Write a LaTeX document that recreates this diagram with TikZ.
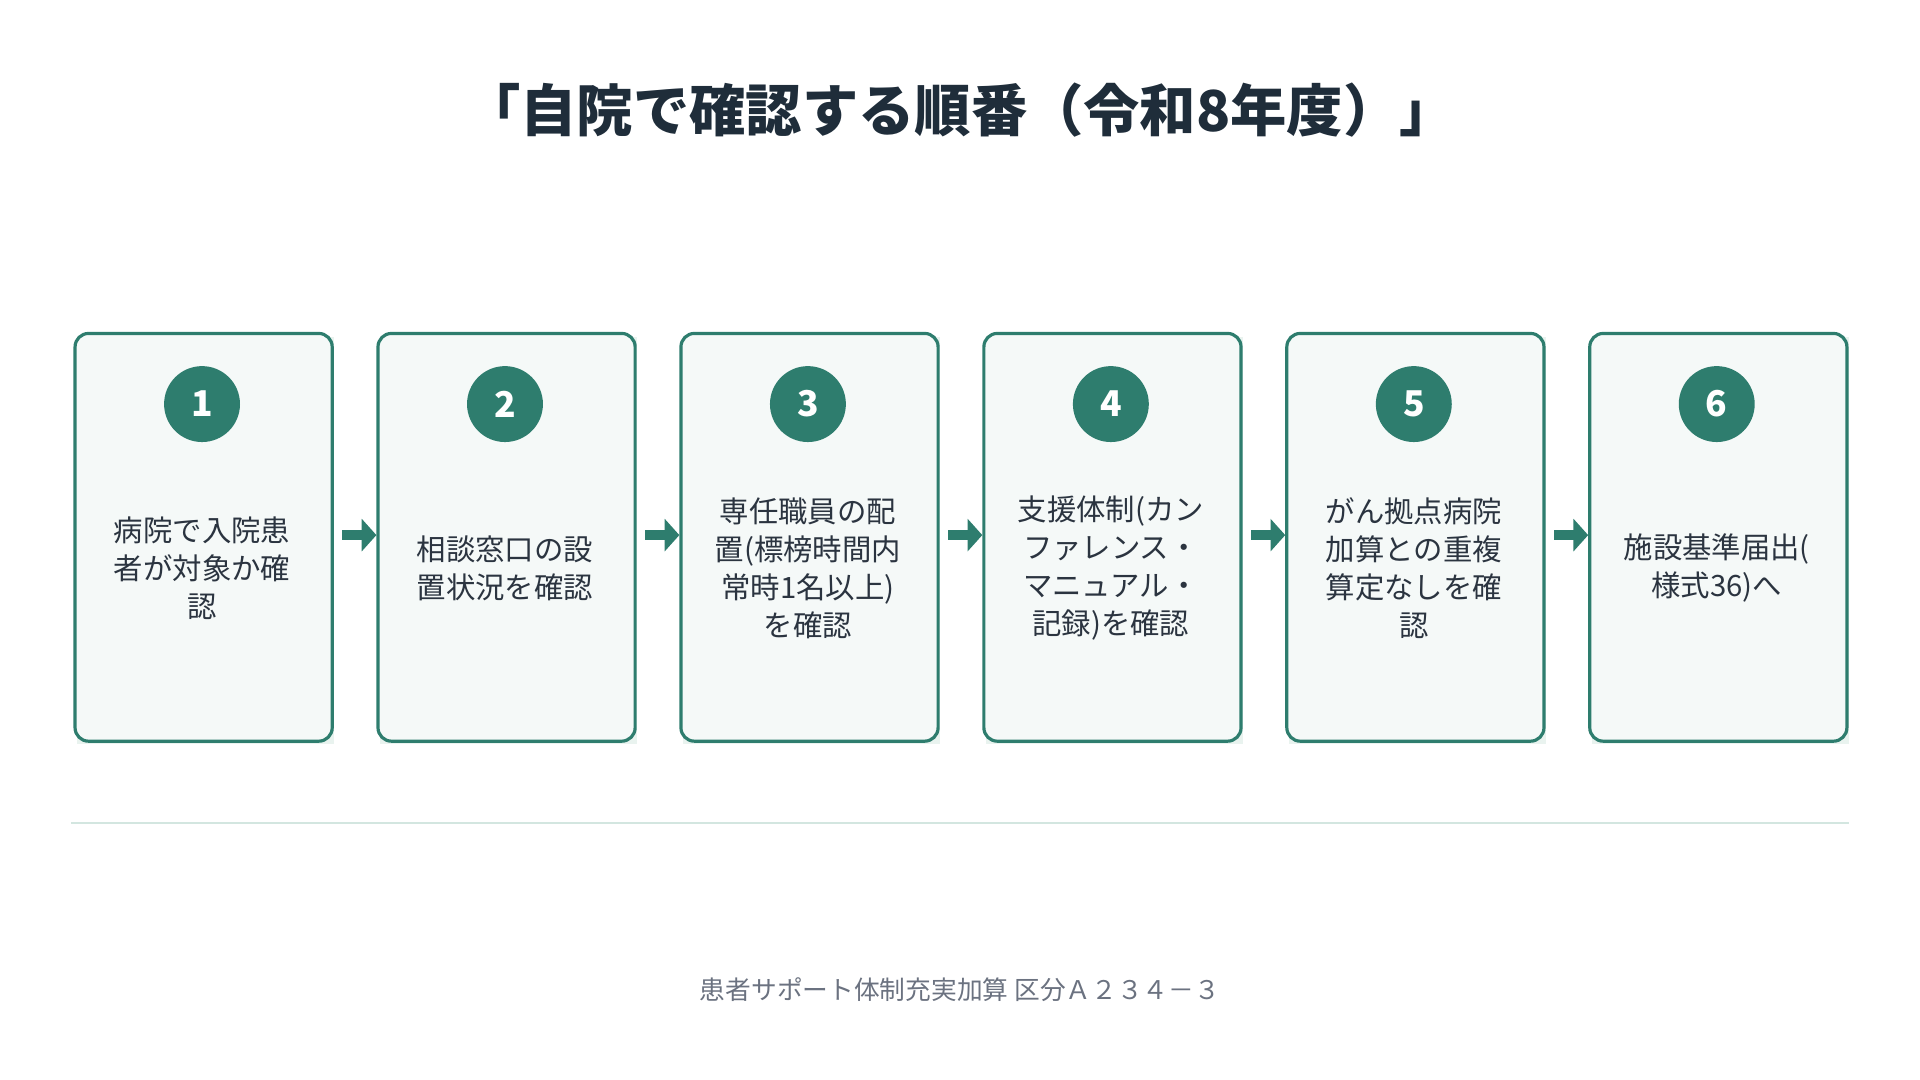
\documentclass[tikz,border=0pt]{standalone}
\usepackage{fontspec}
\setmainfont{Noto Sans CJK JP}
\usetikzlibrary{arrows.meta}
\definecolor{tealc}{HTML}{2E7D6E}
\definecolor{boxfill}{HTML}{F5F9F8}
\definecolor{darkt}{HTML}{1F2D3A}
\definecolor{bodyt}{HTML}{2B3440}
\definecolor{rulec}{HTML}{D3E6E0}
\definecolor{footc}{HTML}{6B7280}
\begin{document}
\begin{tikzpicture}[x=1pt,y=-1pt,
  stepbox/.style={draw=tealc,line width=2.6pt,fill=boxfill,rounded corners=11pt,minimum width=210pt,minimum height=333pt,anchor=north west,inner sep=0pt},
  num/.style={circle,fill=tealc,minimum size=62pt,inner sep=0pt,text=white,font=\fontsize{29}{29}\selectfont\bfseries},
  lab/.style={align=center,text=bodyt,font=\fontsize{24}{31}\selectfont},
  arr/.style={-{Triangle[length=12pt,width=26pt]},line width=8pt,draw=tealc,shorten <=7pt,shorten >=0pt}]
\useasboundingbox (0,0) rectangle (1568,882);
\node[font=\fontsize{46}{46}\selectfont\bfseries,text=darkt] (title) at (784,90) {「自院で確認する順番（令和8年度）」};
\foreach \i/\t [count=\k from 0] in {1/{病院で入院患\\者が対象か確\\認},2/{相談窓口の設\\置状況を確認},3/{専任職員の配\\置(標榜時間内\\常時1名以上)\\を確認},4/{支援体制(カン\\ファレンス・\\マニュアル・\\記録)を確認},5/{がん拠点病院\\加算との重複\\算定なしを確\\認},6/{施設基準届出(\\様式36)へ}}{
  \fill[rulec!50] (60+247.4*\k+3,271+4) rectangle ++(210,333);
  \node[stepbox] (b\i) at (60+247.4*\k,271) {};
  \node[num] (n\i) at (165+247.4*\k,330) {\i};
  \node[lab] (t\i) at (165+247.4*\k,464) {\t};
}
\foreach \a/\b in {1/2,2/3,3/4,4/5,5/6}{
  \draw[arr] (b\a.east|-0,437) -- (b\b.west|-0,437);
}
\coordinate (r1) at (58,672); \coordinate (r2) at (1510,672);
\draw[rulec,line width=2pt] (r1) -- (r2);
\node[font=\fontsize{21}{21}\selectfont,text=footc] (foot) at (784,808) {患者サポート体制充実加算 区分Ａ２３４－３};
\end{tikzpicture}
\end{document}
